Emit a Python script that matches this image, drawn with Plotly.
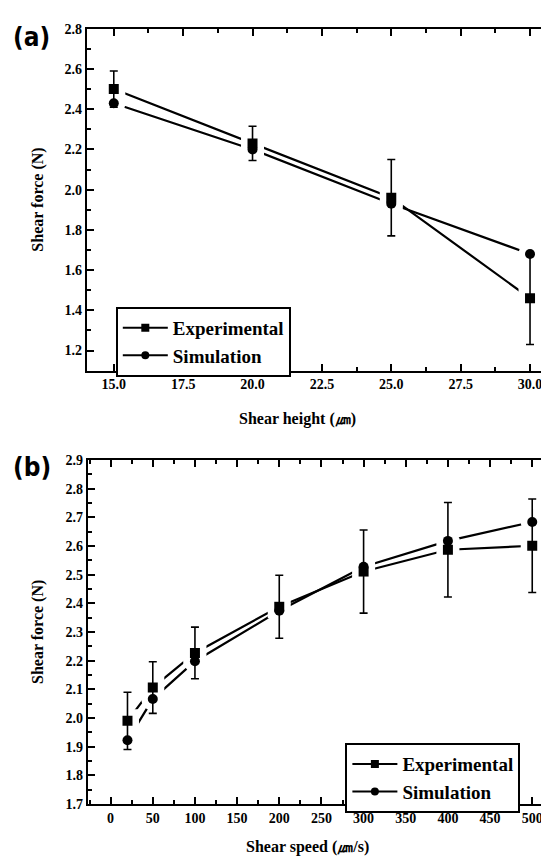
import plotly.graph_objects as go

# ---------------- data ----------------
height_um = [15, 20, 25, 30]
height_exp = [2.50, 2.23, 1.96, 1.46]
height_exp_err = [0.09, 0.085, 0.19, 0.23]
height_sim = [2.43, 2.20, 1.93, 1.68]

speed_um_s = [20, 50, 100, 200, 300, 400, 500]
speed_exp = [1.99, 2.106, 2.227, 2.388, 2.511, 2.587, 2.601]
speed_exp_err = [0.10, 0.09, 0.09, 0.11, 0.145, 0.165, 0.163]
speed_sim = [1.922, 2.066, 2.198, 2.374, 2.528, 2.618, 2.684]

W, H = 549, 857
SERIF = "Liberation Serif"

fig = go.Figure()


def add_panel(xs, exp, err, sim, xa, ya, legend):
    # connecting lines
    for ys in (exp, sim):
        fig.add_trace(go.Scatter(x=xs, y=ys, mode="lines", xaxis=xa, yaxis=ya,
                                 line=dict(color="black", width=2.2),
                                 showlegend=False, hoverinfo="skip"))
    # white halos producing the line gaps around symbols
    for ys, sym in ((exp, "square"), (sim, "circle")):
        fig.add_trace(go.Scatter(x=xs, y=ys, mode="markers", xaxis=xa, yaxis=ya,
                                 marker=dict(symbol=sym, size=23, color="white",
                                             line=dict(width=0)),
                                 showlegend=False, hoverinfo="skip"))
    # symbols
    fig.add_trace(go.Scatter(x=xs, y=exp, mode="markers", xaxis=xa, yaxis=ya,
                             marker=dict(symbol="square", size=10, color="black"),
                             error_y=dict(type="data", array=err, color="black",
                                          thickness=1.6, width=4),
                             showlegend=False))
    fig.add_trace(go.Scatter(x=xs, y=sim, mode="markers", xaxis=xa, yaxis=ya,
                             marker=dict(symbol="circle", size=10, color="black"),
                             showlegend=False))
    # legend entries
    fig.add_trace(go.Scatter(x=[None], y=[None], mode="lines+markers", xaxis=xa, yaxis=ya,
                             name="Experimental", legend=legend,
                             line=dict(color="black", width=2),
                             marker=dict(symbol="square", size=8, color="black")))
    fig.add_trace(go.Scatter(x=[None], y=[None], mode="lines+markers", xaxis=xa, yaxis=ya,
                             name="Simulation", legend=legend,
                             line=dict(color="black", width=2),
                             marker=dict(symbol="circle", size=8, color="black")))


add_panel(height_um, height_exp, height_exp_err, height_sim, "x", "y", "legend")
add_panel(speed_um_s, speed_exp, speed_exp_err, speed_sim, "x2", "y2", "legend2")


def px_x(p):
    return p / W


def px_y(p):
    return 1 - p / H


tickfont = dict(family=SERIF, size=14, color="black", weight="bold")


def axis(domain, rng, dtick, minor_dtick, fmt, anchor):
    return dict(domain=domain, range=rng, dtick=dtick, tick0=0, tickformat=fmt,
                showline=True, linecolor="black", linewidth=2, mirror="allticks",
                ticks="inside", ticklen=7, tickwidth=2, tickcolor="black",
                minor=dict(dtick=minor_dtick, ticks="inside", ticklen=4,
                           tickwidth=1.5, tickcolor="black"),
                showgrid=False, zeroline=False, tickfont=tickfont, anchor=anchor)


legend_font = dict(family=SERIF, size=19, color="black", weight="bold")
fig.update_layout(
    width=W, height=H, margin=dict(l=0, r=0, t=0, b=0),
    paper_bgcolor="white", plot_bgcolor="white",
    xaxis=axis([px_x(79), px_x(548)], [14.03, 30.9], 2.5, 1.25, ".1f", "y"),
    yaxis=axis([px_y(362), px_y(14)], [1.1, 2.8], 0.2, 0.1, ".1f", "x"),
    xaxis2=axis([px_x(80), px_x(548)], [-27, 527], 50, 25, "d", "y2"),
    yaxis2=axis([px_y(803), px_y(453)], [1.7, 2.9], 0.1, 0.05, ".1f", "x2"),
    legend=dict(x=px_x(108), y=px_y(297), xanchor="left", yanchor="top",
                bordercolor="black", borderwidth=2, bgcolor="white",
                font=legend_font, itemwidth=45, tracegroupgap=0),
    legend2=dict(x=px_x(338), y=px_y(741), xanchor="left", yanchor="top",
                 bordercolor="black", borderwidth=2, bgcolor="white",
                 font=legend_font, itemwidth=45, tracegroupgap=0),
    showlegend=True,
)

title_font = dict(family=SERIF, size=16, color="black", weight="bold")
label_font = dict(family="DejaVu Sans Condensed, DejaVu Sans", size=26,
                  color="black", weight="bold")
annotations = [
    dict(text="(a)", x=px_x(3), y=px_y(22), xanchor="left", yanchor="middle", font=label_font),
    dict(text="(b)", x=px_x(3), y=px_y(460), xanchor="left", yanchor="middle", font=label_font),
    dict(text="Shear force (N)", x=px_x(30), y=px_y(188), textangle=-90,
         xanchor="center", yanchor="middle", font=title_font),
    dict(text="Shear force (N)", x=px_x(30), y=px_y(628), textangle=-90,
         xanchor="center", yanchor="middle", font=title_font),
    dict(text="Shear height (㎛)", x=px_x(290), y=px_y(411),
         xanchor="center", yanchor="middle", font=title_font),
    dict(text="Shear speed (㎛/s)", x=px_x(300), y=px_y(847),
         xanchor="center", yanchor="middle", font=title_font),
]
for a in annotations:
    a.update(xref="paper", yref="paper", showarrow=False)
fig.update_layout(annotations=annotations)

fig.write_html("out.html")
